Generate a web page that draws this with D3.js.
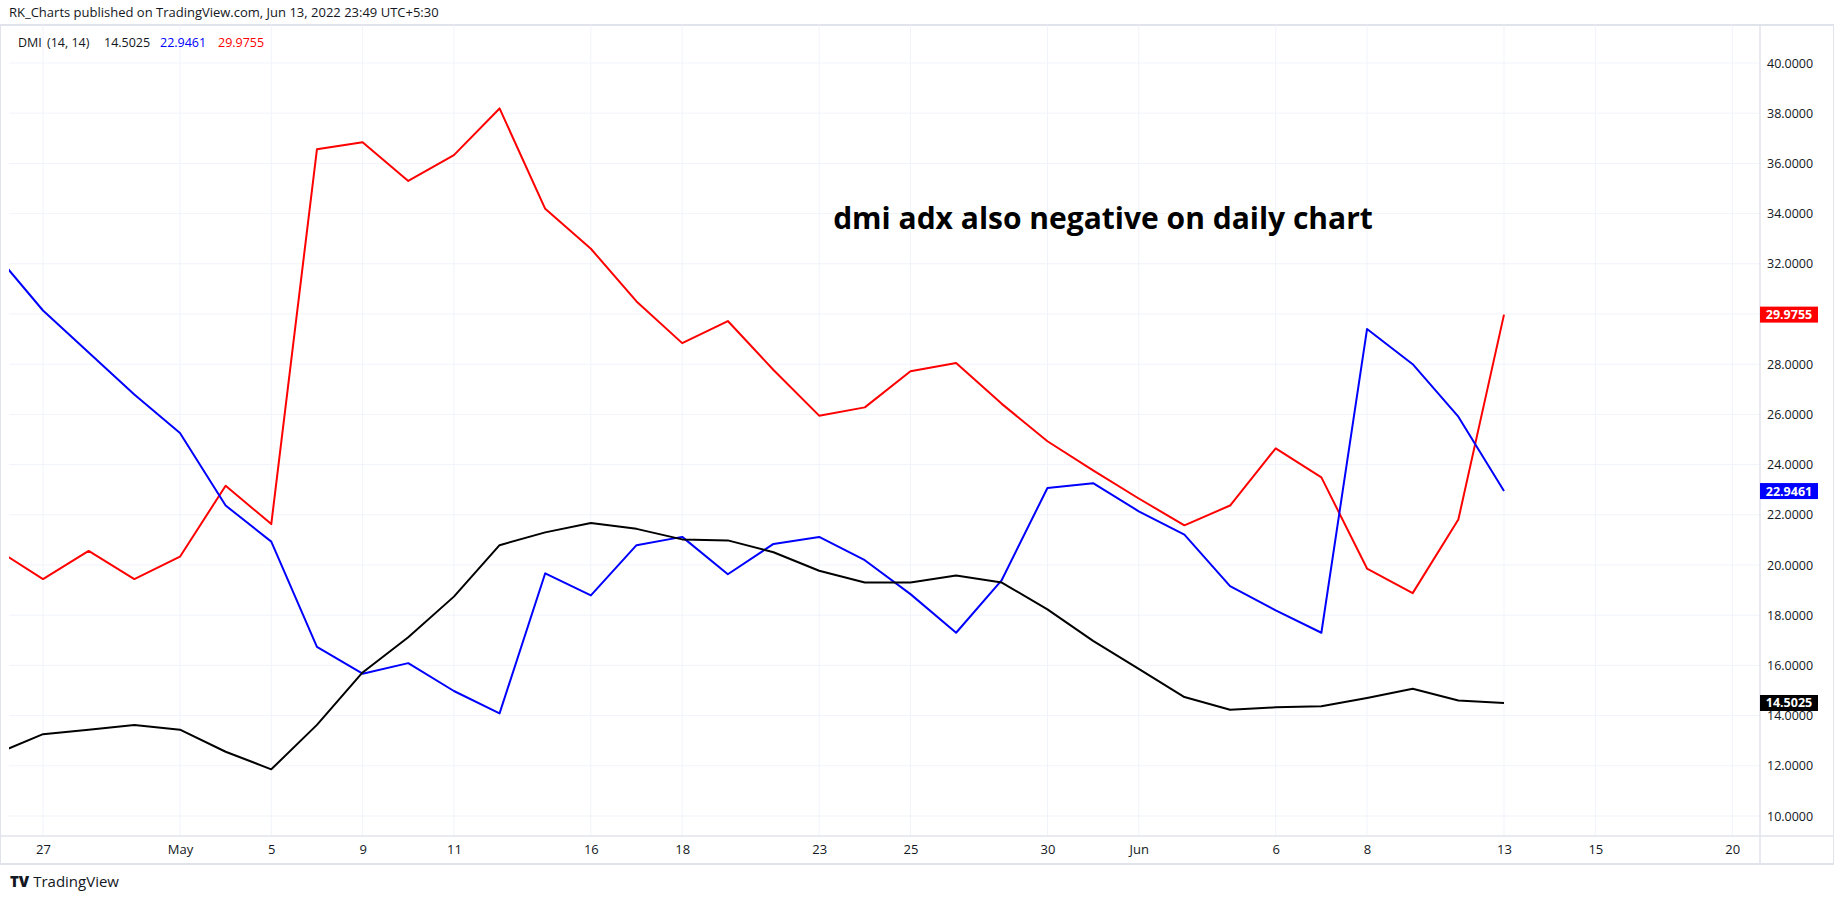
<!DOCTYPE html>
<html>
<head>
<meta charset="utf-8">
<script src="https://cdn.jsdelivr.net/npm/d3@7"></script>
<style>
  html, body { margin: 0; padding: 0; background: #fff; }
  svg { display: block; font-family: 'Open Sans', 'DejaVu Sans', sans-serif; }
</style>
</head>
<body>
<svg id="chart" width="1834" height="899"></svg>
<script>
// ── Dados (sessões de pregão, 26 Abr → 13 Jun 2022) ──
const diasLabels = ['26', '27', '28', '29', 'May', '4', '5', '6', '9', '10', '11', '12', '13',
  '16', '17', '18', '19', '20', '23', '24', '25', '26', '27', '30', '31', 'Jun', '2', '3',
  '6', '7', '8', '9', '10', '13', '14', '15', '16', '17', '20'];
const ticksTempo = [1, 4, 6, 8, 10, 13, 15, 18, 20, 23, 25, 28, 30, 33, 35, 38];

const adx = [12.5, 13.26, 13.44, 13.63, 13.44, 12.56, 11.86, 13.63, 15.72, 17.12, 18.74, 20.79, 21.3,
  21.67, 21.44, 21.02, 20.98, 20.51, 19.77, 19.3, 19.3, 19.58, 19.3, 18.23, 16.98, 15.86, 14.74, 14.23,
  14.33, 14.37, 14.7, 15.07, 14.6, 14.5025];
const diPlus = [32.3, 30.14, 28.47, 26.79, 25.26, 22.37, 20.93, 16.74, 15.67, 16.09, 14.98, 14.09, 19.67,
  18.79, 20.79, 21.12, 19.63, 20.84, 21.12, 20.19, 18.84, 17.3, 19.4, 23.07, 23.26, 22.14, 21.21, 19.16,
  18.19, 17.3, 29.4, 28.0, 25.91, 22.9461];
const diMinus = [20.6, 19.44, 20.56, 19.44, 20.33, 23.16, 21.63, 36.56, 36.84, 35.3, 36.33, 38.19, 34.19,
  32.6, 30.5, 28.84, 29.72, 27.77, 25.95, 26.28, 27.72, 28.05, 26.42, 24.93, 23.77, 22.65, 21.58, 22.37,
  24.65, 23.49, 19.86, 18.88, 21.81, 29.9755];
const ticksPreco = d3.range(10, 40.01, 2);

const CORES = { grade: '#f0f3fa', borda: '#e0e3eb', texto: '#131722', adx: '#000000', mais: '#0000ff', menos: '#ff0000' };

const svg = d3.select('#chart');
const painel = { left: 9, right: 1760, top: 25, bottom: 836 };

const x = d3.scaleLinear().domain([1, 33]).range([43, 1504]);
const y = d3.scaleLinear().domain([10, 40]).range([816, 63]);

// ── Cabeçalho ──
svg.append('text').attr('x', 9).attr('y', 17).style('font-size', '13px').style('fill', CORES.texto)
  .text('RK_Charts published on TradingView.com, Jun 13, 2022 23:49 UTC+5:30');

// ── Moldura ──
svg.append('rect').attr('x', 0).attr('y', 25).attr('width', 1834).attr('height', 839)
  .style('fill', 'none').style('stroke', CORES.borda).style('stroke-width', 2);

const clip = svg.append('defs').append('clipPath').attr('id', 'clipPainel');
clip.append('rect').attr('x', painel.left).attr('y', painel.top)
  .attr('width', painel.right - painel.left).attr('height', painel.bottom - painel.top);

const g = svg.append('g').attr('clip-path', 'url(#clipPainel)');

// ── Grade ──
g.selectAll('.gv').data(ticksTempo).enter().append('line')
  .attr('x1', d => x(d)).attr('x2', d => x(d)).attr('y1', painel.top).attr('y2', painel.bottom)
  .style('stroke', CORES.grade);
g.selectAll('.gh').data(ticksPreco).enter().append('line')
  .attr('x1', painel.left).attr('x2', painel.right).attr('y1', d => y(d)).attr('y2', d => y(d))
  .style('stroke', CORES.grade);

// ── Linhas ──
const linha = d3.line().x((d, i) => x(i)).y(d => y(d));
[[diMinus, CORES.menos], [diPlus, CORES.mais], [adx, CORES.adx]].forEach(([serie, cor]) => {
  g.append('path').datum(serie).attr('d', linha)
    .style('fill', 'none').style('stroke', cor).style('stroke-width', 2).style('stroke-linejoin', 'round');
});

// ── Separadores ──
svg.append('line').attr('x1', painel.right).attr('x2', painel.right).attr('y1', 25).attr('y2', 864)
  .style('stroke', CORES.borda).style('stroke-width', 1.5);
svg.append('line').attr('x1', 0).attr('x2', 1834).attr('y1', painel.bottom).attr('y2', painel.bottom)
  .style('stroke', CORES.borda).style('stroke-width', 1.5);

// ── Eixo de preço ──
const eixoY = d3.axisRight(y).tickValues(ticksPreco).tickSize(0).tickFormat(d3.format('.4f'));
const gy = svg.append('g').attr('transform', `translate(${painel.right + 4},0)`).call(eixoY);
gy.select('.domain').remove();
gy.selectAll('text').style('font-size', '12.5px').style('fill', CORES.texto)
  .style('font-family', "'Open Sans', sans-serif");

// ── Eixo de tempo ──
const eixoX = d3.axisBottom(x).tickValues(ticksTempo).tickSize(0).tickFormat(d => diasLabels[d]);
const gx = svg.append('g').attr('transform', `translate(0,${painel.bottom + 6})`).call(eixoX);
gx.select('.domain').remove();
gx.selectAll('text').style('font-size', '13px').style('fill', CORES.texto)
  .style('font-family', "'Open Sans', sans-serif");

// ── Etiquetas do último valor ──
[[diMinus, CORES.menos], [diPlus, CORES.mais], [adx, CORES.adx]].forEach(([serie, cor]) => {
  const v = serie[serie.length - 1];
  svg.append('rect').attr('x', painel.right).attr('y', y(v) - 8).attr('width', 58).attr('height', 16)
    .style('fill', cor);
  svg.append('text').attr('x', painel.right + 29).attr('y', y(v) + 4.5).attr('text-anchor', 'middle')
    .style('font-size', '12.5px').style('font-weight', '700').style('fill', '#fff').text(v.toFixed(4));
});

// ── Legenda do indicador ──
const legItens = [
  ['DMI', CORES.texto, 18], ['(14, 14)', CORES.texto, 47],
  [adx[adx.length - 1].toFixed(4), CORES.texto, 104],
  [diPlus[diPlus.length - 1].toFixed(4), CORES.mais, 160],
  [diMinus[diMinus.length - 1].toFixed(4), CORES.menos, 218]
];
legItens.forEach(([t, cor, px]) => {
  svg.append('text').attr('x', px).attr('y', 47).style('font-size', '12.5px').style('fill', cor).text(t);
});

// ── Anotação ──
svg.append('text').attr('x', 1103).attr('y', 229).attr('text-anchor', 'middle')
  .style('font-size', '30px').style('font-weight', '700').style('fill', '#000')
  .text('dmi adx also negative on daily chart');

// ── Logo ──
svg.append('text').attr('x', 10).attr('y', 887).style('font-size', '15px').style('fill', CORES.texto)
  .html('<tspan style="font-weight:900">TV</tspan> TradingView');
</script>
</body>
</html>
